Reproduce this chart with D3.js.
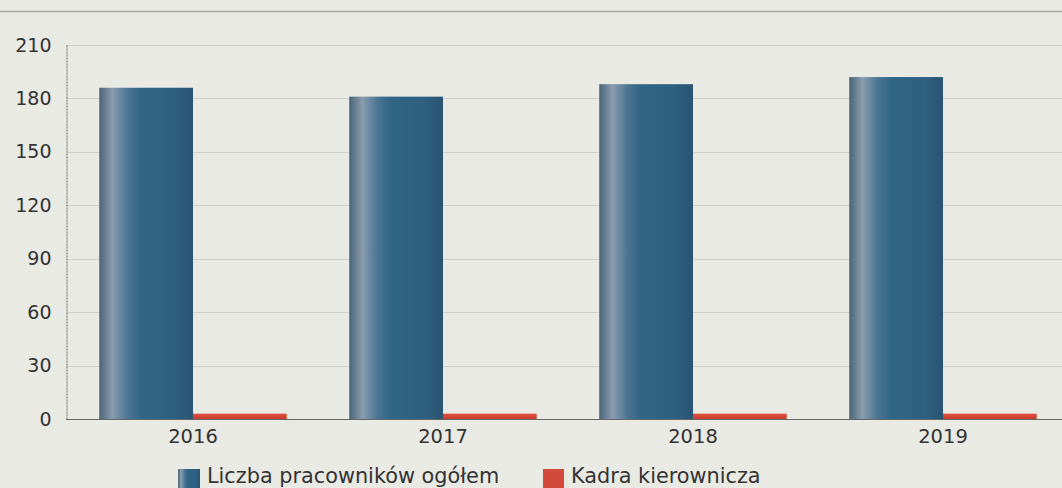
<!DOCTYPE html>
<html>
<head>
<meta charset="utf-8">
<script src="https://cdn.jsdelivr.net/npm/d3@7"></script>
<style>
html,body{margin:0;padding:0;background:#eaeae5;}
svg{display:block;font-family:"DejaVu Sans",Verdana,sans-serif;}
</style>
</head>
<body>
<svg id="chart" width="1062" height="488"></svg>
<script>
const categories = ["2016", "2017", "2018", "2019"];
const seriesNames = ["Liczba pracowników ogółem", "Kadra kierownicza"];
const totalEmployees = [186, 181, 188, 192];
const managers = [3, 3, 3, 3];
const yTicks = [0, 30, 60, 90, 120, 150, 180, 210];

const svg = d3.select("#chart");
const W = 1062, H = 488;

svg.append("rect").attr("width", W).attr("height", H).attr("fill", "#eaeae5");

const defs = svg.append("defs");
const gBlue = defs.append("linearGradient").attr("id", "gBlue").attr("x1", "0").attr("x2", "1").attr("y1", "0").attr("y2", "0");
[["0%", "#4a6278"], ["14%", "#8a9daf"], ["30%", "#4b7592"], ["45%", "#2f6586"], ["80%", "#2e6080"], ["100%", "#2a5473"]]
  .forEach(([o, c]) => gBlue.append("stop").attr("offset", o).attr("stop-color", c));
const gRed = defs.append("linearGradient").attr("id", "gRed").attr("x1", "0").attr("x2", "0").attr("y1", "0").attr("y2", "1");
[["0%", "#e0503d"], ["100%", "#c83a2c"]].forEach(([o, c]) => gRed.append("stop").attr("offset", o).attr("stop-color", c));

// top rule
svg.append("line").attr("x1", 0).attr("x2", W).attr("y1", 11.5).attr("y2", 11.5)
  .attr("stroke", "#a9a9a5").attr("stroke-width", 1.5);

const x0 = d3.scaleBand().domain(categories).range([68, 1068]).paddingInner(0.25).paddingOuter(0.125);
const x1 = d3.scaleBand().domain(seriesNames).range([0, x0.bandwidth()]);
const y = d3.scaleLinear().domain([0, 210]).range([419, 45]);

// gridlines
svg.append("g").selectAll("line").data(yTicks.filter(t => t > 0)).join("line")
  .attr("x1", 66).attr("x2", W).attr("y1", d => Math.round(y(d)) + 0.5).attr("y2", d => Math.round(y(d)) + 0.5)
  .attr("stroke", "#cfcfca").attr("stroke-width", 1);

// y axis
const yAxis = svg.append("g").attr("transform", "translate(66.5,0)")
  .call(d3.axisLeft(y).tickValues(yTicks).tickSize(0).tickPadding(15));
yAxis.select(".domain").attr("stroke", "#666").attr("stroke-dasharray", "2,1");
yAxis.selectAll("text").attr("font-size", "19px").attr("fill", "#333").attr("font-family", "DejaVu Sans");

const series = [
  { name: seriesNames[0], values: totalEmployees, fill: "url(#gBlue)" },
  { name: seriesNames[1], values: managers, fill: "url(#gRed)" }
];

const groups = svg.append("g").selectAll("g").data(categories).join("g")
  .attr("transform", d => `translate(${x0(d)},0)`);
groups.selectAll("rect").data((d, i) => series.map(s => ({ s, v: s.values[i] }))).join("rect")
  .attr("x", d => x1(d.s.name))
  .attr("width", x1.bandwidth())
  .attr("y", d => y(d.v))
  .attr("height", d => y(0) - y(d.v))
  .attr("fill", d => d.s.fill);

// baseline
svg.append("line").attr("x1", 66).attr("x2", W).attr("y1", 419.5).attr("y2", 419.5)
  .attr("stroke", "#666").attr("stroke-width", 1.2);

// x axis labels
const xAxis = svg.append("g").attr("transform", "translate(0,419)")
  .call(d3.axisBottom(x0).tickSize(0).tickPadding(10));
xAxis.select(".domain").remove();
xAxis.selectAll("text").attr("font-size", "19.5px").attr("fill", "#333").attr("font-family", "DejaVu Sans");

// legend
const legend = [
  { name: seriesNames[0], fill: "url(#gBlue)", x: 178, w: 22 },
  { name: seriesNames[1], fill: "#d24a3b", x: 543, w: 21 }
];
const lg = svg.append("g").selectAll("g").data(legend).join("g");
lg.append("rect").attr("x", d => d.x).attr("y", 469).attr("width", d => d.w).attr("height", 20).attr("fill", d => d.fill);
lg.append("text").attr("x", d => d.x + d.w + 7).attr("y", 483)
  .attr("font-size", "20.8px").attr("fill", "#333").text(d => d.name);
</script>
</body>
</html>
